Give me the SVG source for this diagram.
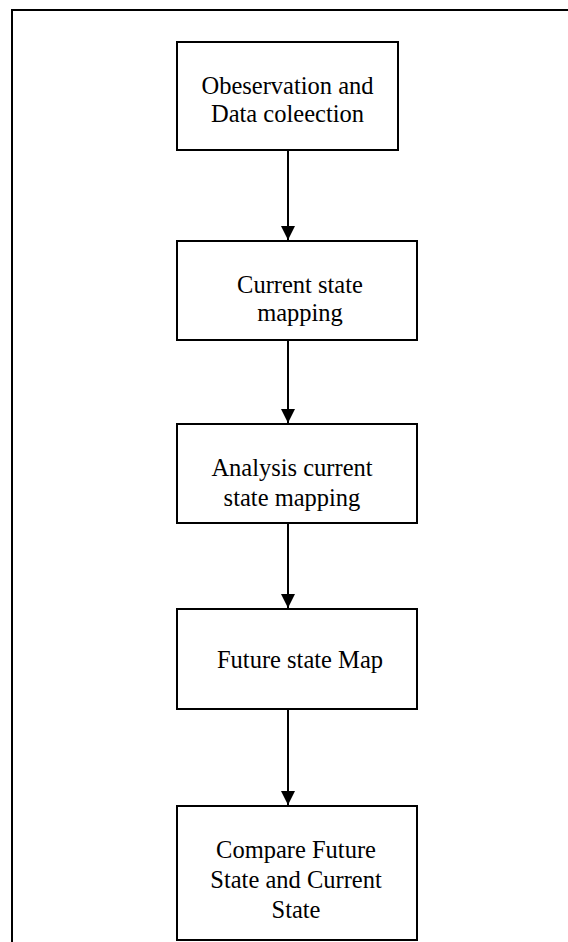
<svg xmlns="http://www.w3.org/2000/svg" width="568" height="942" viewBox="0 0 568 942">
<defs>
<style>
.box{fill:#fff;stroke:#000;stroke-width:2}
.frame{fill:none;stroke:#000;stroke-width:2}
.lbl{font-family:'Liberation Serif','Times New Roman','DejaVu Serif',serif;font-size:24.5px;fill:#000;text-anchor:middle}
.conn{stroke:#000;stroke-width:2;fill:none;marker-end:url(#arr)}
</style>
<marker id="arr" markerUnits="userSpaceOnUse" markerWidth="14" markerHeight="16" refX="14" refY="7" orient="auto">
<path d="M0,0 L14,7 L0,14 Z" fill="#000"/>
</marker>
</defs>
<rect width="568" height="942" fill="#fff"/>
<rect class="frame" x="12" y="10" width="580" height="950"/>
<g id="connectors">
<line class="conn" x1="288" y1="150" x2="288" y2="240"/>
<line class="conn" x1="288" y1="340" x2="288" y2="423"/>
<line class="conn" x1="288" y1="523" x2="288" y2="608"/>
<line class="conn" x1="288" y1="709" x2="288" y2="805"/>
</g>
<g id="n1" font-family="Liberation Serif, serif">
<rect class="box" x="177" y="42" width="221" height="108"/>
<text class="lbl" x="287.5" y="94">Obeservation and</text>
<text class="lbl" x="287.5" y="122">Data coleection</text>
</g>
<g id="n2">
<rect class="box" x="177" y="241" width="240" height="99"/>
<text class="lbl" x="300" y="293">Current state</text>
<text class="lbl" x="300" y="321">mapping</text>
</g>
<g id="n3">
<rect class="box" x="177" y="424" width="240" height="99"/>
<text class="lbl" x="292" y="476">Analysis current</text>
<text class="lbl" x="292" y="506">state mapping</text>
</g>
<g id="n4">
<rect class="box" x="177" y="609" width="240" height="100"/>
<text class="lbl" x="300" y="668">Future state Map</text>
</g>
<g id="n5">
<rect class="box" x="177" y="806" width="240" height="134"/>
<text class="lbl" x="296" y="858">Compare Future</text>
<text class="lbl" x="296" y="888">State and Current</text>
<text class="lbl" x="296" y="918">State</text>
</g>
</svg>
